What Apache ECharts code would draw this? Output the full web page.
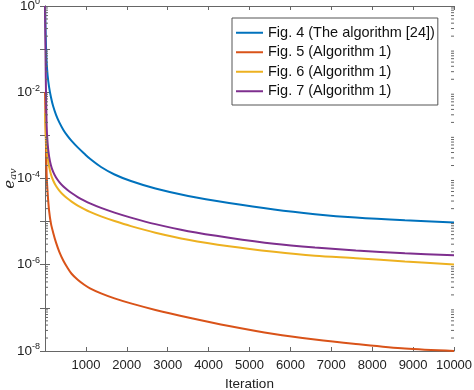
<!DOCTYPE html>
<html>
<head>
<meta charset="utf-8">
<script src="https://cdn.jsdelivr.net/npm/echarts@6/dist/echarts.min.js"></script>
<style>
html,body{margin:0;padding:0;background:#fff;}
#chart{width:474px;height:390px;}
</style>
</head>
<body>
<div id="chart"></div>
<script>
const iterations = [1, 20, 40, 64, 100, 146, 200, 270, 350, 450, 550, 650, 800, 960, 1100, 1370, 1700, 2100, 2700, 3500, 4500, 5600, 6600, 7600, 8800, 10000];
const seriesNames = ['Fig. 4 (The algorithm [24])', 'Fig. 5 (Algorithm 1)', 'Fig. 6 (Algorithm 1)', 'Fig. 7 (Algorithm 1)'];
const fig4 = [1, 0.162, 0.0499, 0.0248, 0.0131, 0.00765, 0.00472, 0.00300, 0.00200, 0.00134, 9.73e-4, 7.45e-4, 5.26e-4, 3.78e-4, 2.87e-4, 1.85e-4, 1.24e-4, 8.75e-5, 5.85e-5, 3.92e-5, 2.69e-5, 1.90e-5, 1.49e-5, 1.24e-5, 1.07e-5, 9.58e-6];
const fig5 = [0.01, 1e-3, 1.24e-4, 4.72e-5, 1.80e-5, 8.97e-6, 5.55e-6, 3.25e-6, 2.0e-6, 1.24e-6, 8.51e-7, 6.18e-7, 4.48e-7, 3.43e-7, 2.84e-7, 2.17e-7, 1.66e-7, 1.27e-7, 8.97e-8, 6.01e-8, 3.81e-8, 2.48e-8, 1.85e-8, 1.46e-8, 1.14e-8, 1.0e-8];
const fig6 = [3.25e-3, 1.0e-3, 4.99e-4, 3.08e-4, 1.90e-4, 1.24e-4, 8.98e-5, 6.69e-5, 5.26e-5, 4.13e-5, 3.43e-5, 2.92e-5, 2.36e-5, 1.95e-5, 1.68e-5, 1.32e-5, 1.03e-5, 7.86e-6, 5.55e-6, 3.81e-6, 2.69e-6, 2.0e-6, 1.62e-6, 1.42e-6, 1.19e-6, 1.02e-6];
const fig7 = [1, 0.0190, 0.00171, 6.52e-4, 3.25e-4, 2.01e-4, 1.42e-4, 1.05e-4, 8.29e-5, 6.52e-5, 5.40e-5, 4.60e-5, 3.72e-5, 3.08e-5, 2.65e-5, 2.08e-5, 1.62e-5, 1.24e-5, 8.74e-6, 6.01e-6, 4.25e-6, 3.08e-6, 2.51e-6, 2.14e-6, 1.85e-6, 1.66e-6];
const colors = ['#0072BD', '#D95319', '#EDB120', '#7E2F8E'];
const xMin = 0, xMax = 10000, xInterval = 1000;
const yMin = 1e-8, yMax = 1;

const allSeries = [fig4, fig5, fig6, fig7];
const axisColor = '#666';
const font = 'Liberation Sans, Arial, Helvetica, sans-serif';

// minor tick values (2..9 x 10^n) for log axis decoration
const minorTickVals = [];
for (let n = -8; n < 0; n++) {
  for (let k = 2; k <= 9; k++) minorTickVals.push([xMin, k * Math.pow(10, n)]);
}

const chart = echarts.init(document.getElementById('chart'), null, {renderer: 'canvas'});

const series = allSeries.map((vals, i) => ({
  name: seriesNames[i],
  type: 'line',
  data: iterations.map((x, j) => [x, vals[j]]),
  symbol: 'none',
  smooth: 0.3,
  lineStyle: {width: 2, color: colors[i]},
  itemStyle: {color: colors[i]},
  z: 3
}));

series.push({
  type: 'custom',
  silent: true,
  data: minorTickVals,
  clip: false,
  z: 5,
  renderItem: function (params, api) {
    const v = api.value(1);
    const pL = api.coord([xMin, v]);
    const pR = api.coord([xMax, v]);
    return {
      type: 'group',
      children: [
        {type: 'line', shape: {x1: pL[0], y1: pL[1], x2: pL[0] + 3, y2: pL[1]}, style: {stroke: axisColor, lineWidth: 1}},
        {type: 'line', shape: {x1: pR[0], y1: pR[1], x2: pR[0] - 3, y2: pR[1]}, style: {stroke: axisColor, lineWidth: 1}}
      ]
    };
  }
});

const option = {
  backgroundColor: '#fff',
  animation: false,
  grid: {left: 45, right: 20, top: 6, bottom: 39, containLabel: false, outerBoundsMode: 'none'},
  legend: {
    data: seriesNames,
    orient: 'vertical',
    left: 232,
    top: 18,
    padding: [5, 3, 4, 4],
    itemGap: 0,
    itemWidth: 27,
    itemHeight: 2,
    icon: 'rect',
    borderColor: '#555',
    borderWidth: 1,
    backgroundColor: '#fff',
    textStyle: {fontFamily: font, fontSize: 14.5, color: '#111', lineHeight: 19.5}
  },
  xAxis: [{
    type: 'value',
    min: xMin, max: xMax, interval: xInterval,
    name: 'Iteration',
    nameLocation: 'middle',
    nameGap: 25,
    nameTextStyle: {fontFamily: font, fontSize: 13.5, color: '#222'},
    axisLine: {lineStyle: {color: axisColor}},
    axisTick: {inside: true, length: 4, lineStyle: {color: axisColor}},
    axisLabel: {fontFamily: font, fontSize: 13, color: '#222', margin: 8,
      formatter: v => v === 0 ? '' : String(v)},
    splitLine: {show: false}
  }, {
    type: 'value',
    position: 'top',
    min: xMin, max: xMax, interval: xInterval,
    axisLine: {show: true, lineStyle: {color: axisColor}},
    axisTick: {inside: true, length: 4, lineStyle: {color: axisColor}},
    axisLabel: {show: false},
    splitLine: {show: false}
  }],
  yAxis: [{
    type: 'log',
    logBase: 10,
    min: yMin, max: yMax,
    interval: 1,
    name: '{e|e}{s|av}',
    nameLocation: 'middle',
    nameGap: 27,
    nameRotate: 90,
    nameMoveOverlap: false,
    nameTextStyle: {
      rich: {
        e: {fontFamily: 'DejaVu Serif, serif', fontStyle: 'italic', fontSize: 15, color: '#222'},
        s: {fontFamily: 'DejaVu Serif, serif', fontStyle: 'italic', fontSize: 10, color: '#222', verticalAlign: 'bottom', padding: [6, 0, 0, 0]}
      }
    },
    axisLine: {show: true, lineStyle: {color: axisColor}},
    axisTick: {inside: true, length: 5, lineStyle: {color: axisColor}},
    axisLabel: {
      margin: 5,
      formatter: function (v) {
        const e = Math.round(Math.log10(v));
        if (e % 2 !== 0) return '';
        return '{b|10}{p|' + e + '}';
      },
      rich: {
        b: {fontFamily: font, fontSize: 13.5, color: '#222'},
        p: {fontFamily: font, fontSize: 9, color: '#222', verticalAlign: 'top', padding: [0, 0, 8, 0]}
      }
    },
    splitLine: {show: false}
  }, {
    type: 'log',
    logBase: 10,
    position: 'right',
    min: yMin, max: yMax,
    interval: 1,
    axisLine: {show: true, lineStyle: {color: axisColor}},
    axisTick: {inside: true, length: 5, lineStyle: {color: axisColor}},
    axisLabel: {show: false},
    splitLine: {show: false}
  }],
  series: series
};

chart.setOption(option);
</script>
</body>
</html>
